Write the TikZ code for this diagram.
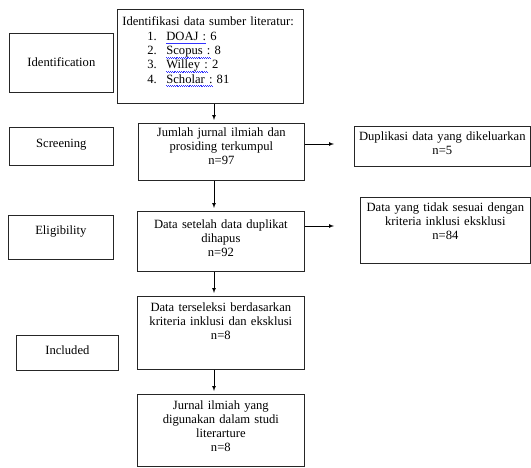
\documentclass[tikz,border=0pt]{standalone}
\usepackage{fontspec}
\setmainfont{Liberation Serif}
\usetikzlibrary{shapes, arrows}
\newcommand\squig[1]{\setbox0\hbox{#1}\rlap{\color{blue!80}\hbox to \wd0{\xleaders\hbox{\rule[-2.7pt]{0.9pt}{0.55pt}\rule[-3.4pt]{0.9pt}{0.55pt}}\hfil}}\box0\relax}
\tikzstyle{stage} = [rectangle, draw=black!85, line width=0.7pt, anchor=north west, align=center, inner xsep=2pt, inner ysep=0pt, font=\fontsize{12.6}{14.2}\selectfont]
\tikzstyle{process} = [stage]
\tikzstyle{source} = [stage, align=left, inner xsep=5pt]
\tikzstyle{arrow} = [line width=0.7pt, ->, >=latex, shorten >=3pt]

\begin{document}
\begin{tikzpicture}[x=1pt, y=-1pt]
    \useasboundingbox (0,0) rectangle (531,468);
    % left column: stages
    \node (ident) [stage, text width=100pt, text height=33pt, text depth=26pt] at (9,33) {Identification};
    \node (screen) [stage, text width=100pt, text height=20pt, text depth=18pt] at (9,127) {Screening};
    \node (elig) [stage, text width=101pt, text height=19pt, text depth=25pt] at (8,215) {Eligibility};
    \node (incl) [stage, text width=98pt, text height=19pt, text depth=16pt] at (16,335) {Included};

    % middle column
    \node (idsrc) [source, text width=176pt, text height=16pt, text depth=78pt] at (117,9) {Identifikasi data sumber literatur:\\[1pt]
        \hspace*{25pt}\makebox[19pt][l]{1.}\squig{DOAJ :} 6\\
        \hspace*{25pt}\makebox[19pt][l]{2.}\squig{Scopus :} 8\\
        \hspace*{25pt}\makebox[19pt][l]{3.}\squig{Willey :} 2\\
        \hspace*{25pt}\makebox[19pt][l]{4.}\squig{Scholar :} 81};
    \node (jumlah) [process, text width=162pt, text height=13pt, text depth=44pt] at (138,123) {Jumlah jurnal ilmiah dan\\prosiding terkumpul\\n=97};
    \node (setelah) [process, text width=163pt, text height=17pt, text depth=43pt] at (137,211) {Data setelah data duplikat\\dihapus\\n=92};
    \node (terseleksi) [process, text width=163pt, text height=15pt, text depth=58pt] at (137,296) {Data terseleksi berdasarkan\\kriteria inklusi dan eksklusi\\n=8};
    \node (jurnal) [process, text width=163pt, text height=15pt, text depth=57pt] at (137,394) {Jurnal ilmiah yang\\digunakan dalam studi\\literarture\\n=8};

    % right column: excluded
    \node (dup) [process, text width=172pt, text height=14pt, text depth=26pt] at (354,126) {Duplikasi data yang dikeluarkan\\n=5};
    \node (tidak) [process, text width=166pt, text height=14pt, text depth=52pt] at (360,197) {Data yang tidak sesuai dengan\\kriteria inklusi eksklusi\\n=84};

    \coordinate (spine) at (214,0);
    \coordinate (dupin) at (334,144);
    \coordinate (tidakin) at (334,226);

    \draw [arrow] (idsrc.south -| spine) -- (jumlah.north -| spine);
    \draw [arrow] (jumlah.south -| spine) -- (setelah.north -| spine);
    \draw [arrow] (setelah.south -| spine) -- (terseleksi.north -| spine);
    \draw [arrow] (terseleksi.south -| spine) -- (jurnal.north -| spine);
    \draw [arrow, shorten >=0pt] (jumlah.east |- dupin) -- (dupin);
    \draw [arrow, shorten >=0pt] (setelah.east |- tidakin) -- (tidakin);
\end{tikzpicture}
\end{document}
